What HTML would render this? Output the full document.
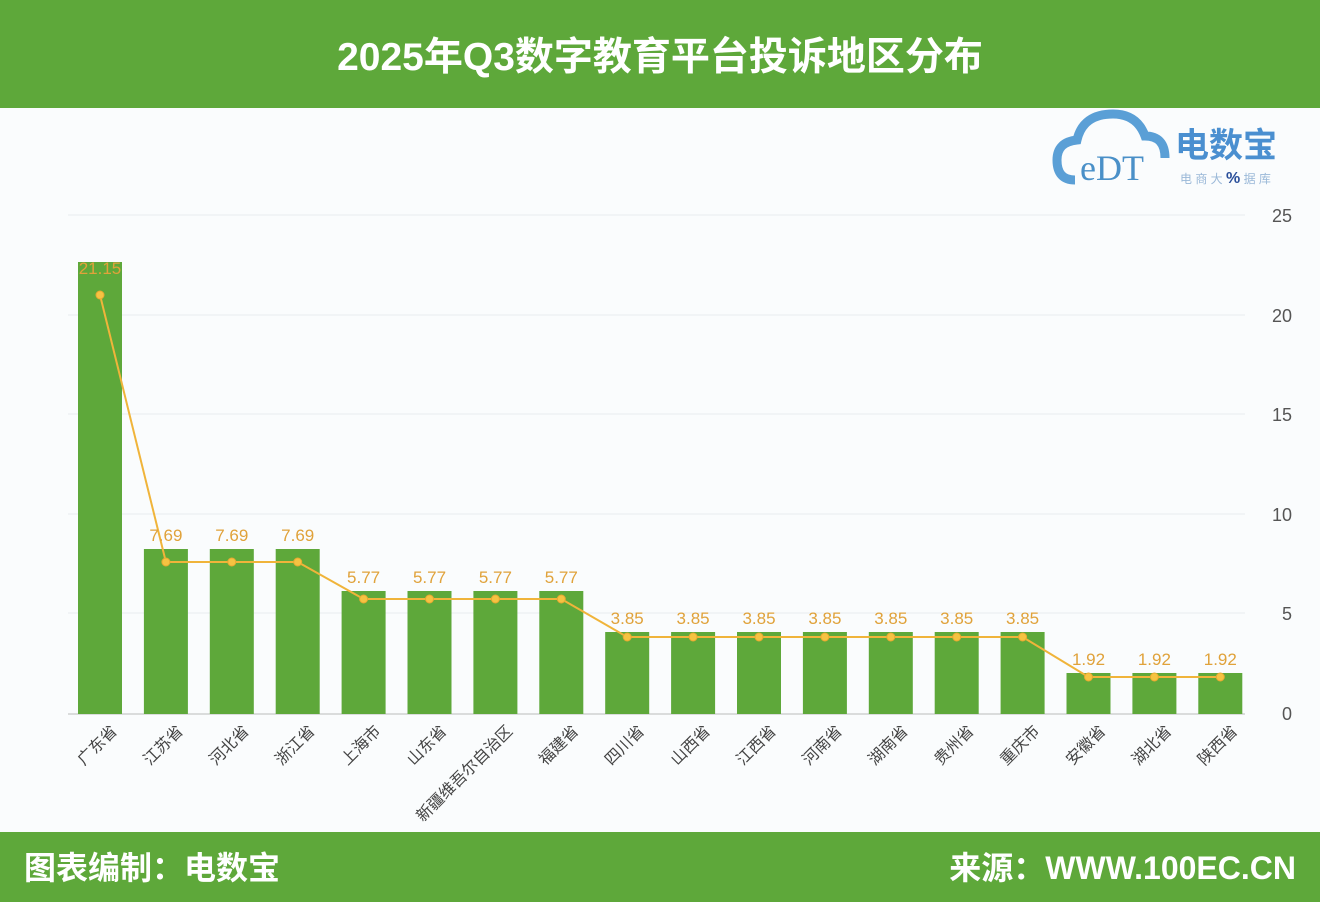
<!DOCTYPE html>
<html><head><meta charset="utf-8"><style>
body{margin:0;width:1320px;height:902px;overflow:hidden;background:#fff;font-family:"Liberation Sans","Noto Sans CJK SC",sans-serif}
</style></head><body>
<svg width="1320" height="902" xmlns="http://www.w3.org/2000/svg" style="display:block">
<rect width="1320" height="902" fill="#fafcfd"/>
<rect width="1320" height="108" fill="#5ea83a"/>
<text x="660" y="70" text-anchor="middle" font-size="39" font-weight="bold" fill="#fff" font-family="Liberation Sans,Noto Sans CJK SC,sans-serif">2025年Q3数字教育平台投诉地区分布</text>
<rect y="832" width="1320" height="70" fill="#5ea83a"/>
<text x="24" y="879" font-size="32" font-weight="bold" fill="#fff">图表编制：电数宝</text>
<text x="1296" y="879" text-anchor="end" font-size="32" font-weight="bold" fill="#fff">来源：WWW.100EC.CN</text>
<path d="M1075 180 q-18 0 -18 -20 q0 -18 20 -20 q6 -26 36 -26 q24 0 32 22 q20 0 20 22" fill="none" stroke="#5a9fd6" stroke-width="9"/>
<text x="1080" y="180" font-size="36" fill="#4a90c8" font-family="Liberation Serif,serif">eDT</text>
<text x="1175" y="157" font-size="34" font-weight="bold" fill="#4a8fd0">电数宝</text>
<text x="1180" y="183" font-size="12" fill="#9ab8d8">电 商 大 <tspan fill="#2a4f9a" font-size="16" font-weight="bold">%</tspan> 据 库</text>
<g stroke="#e8ecee" stroke-width="1">
<line x1="68" x2="1245" y1="215" y2="215"/><line x1="68" x2="1245" y1="315" y2="315"/><line x1="68" x2="1245" y1="414" y2="414"/><line x1="68" x2="1245" y1="514" y2="514"/><line x1="68" x2="1245" y1="613" y2="613"/>
</g>
<line x1="68" x2="1245" y1="714" y2="714" stroke="#bbb"/>
<g font-size="18" fill="#555" text-anchor="end">
<text x="1292" y="222">25</text><text x="1292" y="322">20</text><text x="1292" y="421">15</text><text x="1292" y="521">10</text><text x="1292" y="620">5</text><text x="1292" y="720">0</text>
</g>
<g fill="#5ea83a" id="bars"></g>
<polyline id="ln" fill="none" stroke="#f0b43a" stroke-width="2"/>
<g id="dots" fill="#f5c342" stroke="#e8a830" stroke-width="1"></g>
<g id="labs" font-size="17" fill="#e0a23a" text-anchor="middle"></g>
<g id="xl" font-size="16" fill="#444" text-anchor="end"></g>
</svg>
<script>
var names=["广东省","江苏省","河北省","浙江省","上海市","山东省","新疆维吾尔自治区","福建省","四川省","山西省","江西省","河南省","湖南省","贵州省","重庆市","安徽省","湖北省","陕西省"];
var tops=[262,549,549,549,591,591,591,591,632,632,632,632,632,632,632,673,673,673];
var pts=[295,562,562,562,599,599,599,599,637,637,637,637,637,637,637,677,677,677];
var labs=["21.15","7.69","7.69","7.69","5.77","5.77","5.77","5.77","3.85","3.85","3.85","3.85","3.85","3.85","3.85","1.92","1.92","1.92"];
var ns="http://www.w3.org/2000/svg";function el(t,a,p){var e=document.createElementNS(ns,t);for(var k in a)e.setAttribute(k,a[k]);document.getElementById(p).appendChild(e);return e;}
var P=[];
for(var i=0;i<18;i++){var cx=100+i*65.9;
el("rect",{x:cx-22,y:tops[i],width:44,height:714-tops[i]},"bars");
P.push(cx+","+pts[i]);
el("circle",{cx:cx,cy:pts[i],r:4},"dots");
var t=el("text",{x:cx,y:(i==0?274:tops[i]-8)},"labs");t.textContent=labs[i];
var lx=cx+18;var x=el("text",{x:lx,y:732,transform:"rotate(-45 "+lx+" 732)"},"xl");x.textContent=names[i];}
document.getElementById("ln").setAttribute("points",P.join(" "));
</script>
</body></html>
